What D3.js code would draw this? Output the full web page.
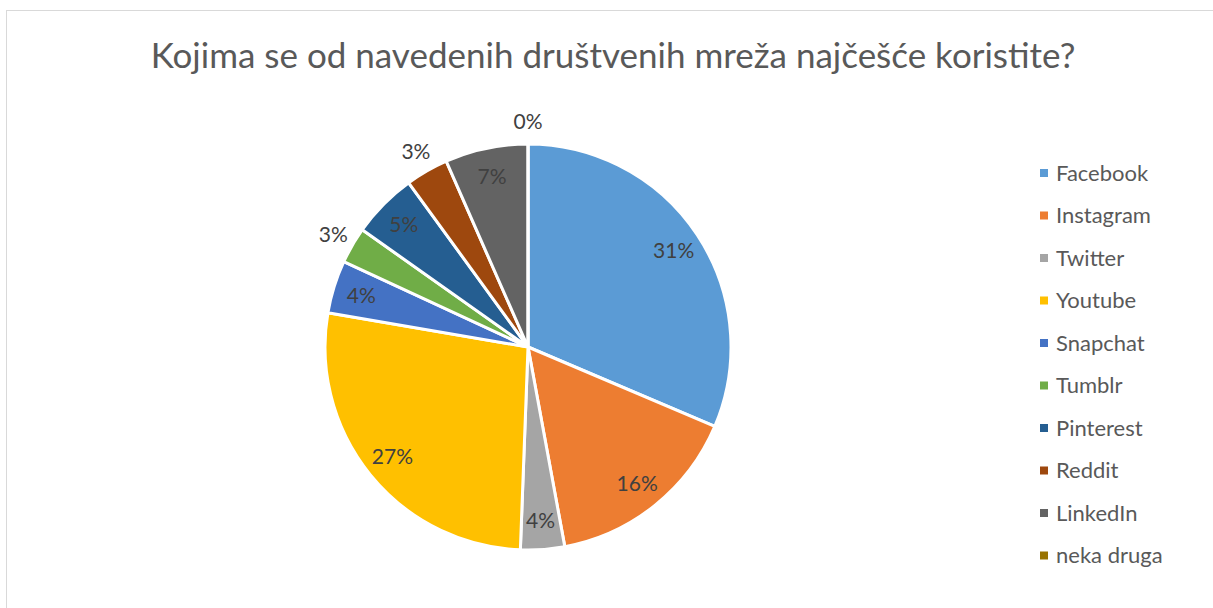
<!DOCTYPE html>
<html>
<head>
<meta charset="utf-8">
<script src="https://cdn.jsdelivr.net/npm/d3@7"></script>
<style>
  body { margin: 0; background: #fff; }
  svg { display: block; font-family: Lato, "Open Sans", sans-serif; }
</style>
</head>
<body>
<svg class="chart"></svg>
<script>
const width = 1213;
const height = 608;

// data
const categories = ['Facebook', 'Instagram', 'Twitter', 'Youtube', 'Snapchat', 'Tumblr', 'Pinterest', 'Reddit', 'LinkedIn', 'neka druga'];
const shares = [31.4, 15.7, 3.5, 27.1, 4.2, 2.9, 5.2, 3.4, 6.6, 0];
const colors = ['#5B9BD5', '#ED7D31', '#A5A5A5', '#FFC000', '#4472C4', '#70AD47', '#255E91', '#9E480E', '#636363', '#997300'];
// labels that Excel put outside the pie
const outside = ['Tumblr', 'Reddit', 'neka druga'];

const svg = d3.select('.chart')
    .attr('width', width)
    .attr('height', height);

// chart area border
svg.append('rect')
    .attr('x', 6.5)
    .attr('y', 10.5)
    .attr('width', 1220)
    .attr('height', 620)
    .attr('fill', '#fff')
    .attr('stroke', '#d9d9d9')
    .attr('stroke-width', 1);

// title
svg.append('text')
    .attr('x', 613)
    .attr('y', 68)
    .attr('text-anchor', 'middle')
    .attr('fill', '#595959')
    .attr('font-size', 35)
    .text('Kojima se od navedenih društvenih mreža najčešće koristite?');

// pie
const cx = 528, cy = 347, r = 203;
const data = categories.map((c, i) => ({ name: c, value: shares[i], color: colors[i] }));

const pie = d3.pie().value(d => d.value).sort(null);
const arc = d3.arc().innerRadius(0).outerRadius(r);
const inArc = d3.arc().innerRadius(r * 0.86).outerRadius(r * 0.86);
const outArc = d3.arc().innerRadius(r + 22).outerRadius(r + 22);

const g = svg.append('g').attr('transform', `translate(${cx},${cy})`);

const arcs = pie(data);

g.selectAll('path')
    .data(arcs)
    .enter()
    .append('path')
    .attr('d', arc)
    .attr('fill', d => d.data.color)
    .attr('stroke', '#fff')
    .attr('stroke-width', 3)
    .attr('stroke-linejoin', 'round');

g.selectAll('text.lbl')
    .data(arcs)
    .enter()
    .append('text')
    .attr('class', 'lbl')
    .attr('transform', d => {
        const p = outside.includes(d.data.name) ? outArc.centroid(d) : inArc.centroid(d);
        return `translate(${p[0]},${p[1]})`;
    })
    .attr('text-anchor', 'middle')
    .attr('dy', '0.35em')
    .attr('fill', '#404040')
    .attr('font-size', 21)
    .text(d => Math.round(d.data.value) + '%');

// legend
const legend = svg.append('g')
    .attr('transform', 'translate(1040,173)');

const rows = legend.selectAll('g')
    .data(data)
    .enter()
    .append('g')
    .attr('transform', (d, i) => `translate(0,${i * 42.5})`);

rows.append('rect')
    .attr('x', 0)
    .attr('y', -4)
    .attr('width', 8)
    .attr('height', 8)
    .attr('fill', d => d.color);

rows.append('text')
    .attr('x', 16)
    .attr('dy', '0.35em')
    .attr('fill', '#595959')
    .attr('font-size', 22)
    .text(d => d.name);
</script>
</body>
</html>
